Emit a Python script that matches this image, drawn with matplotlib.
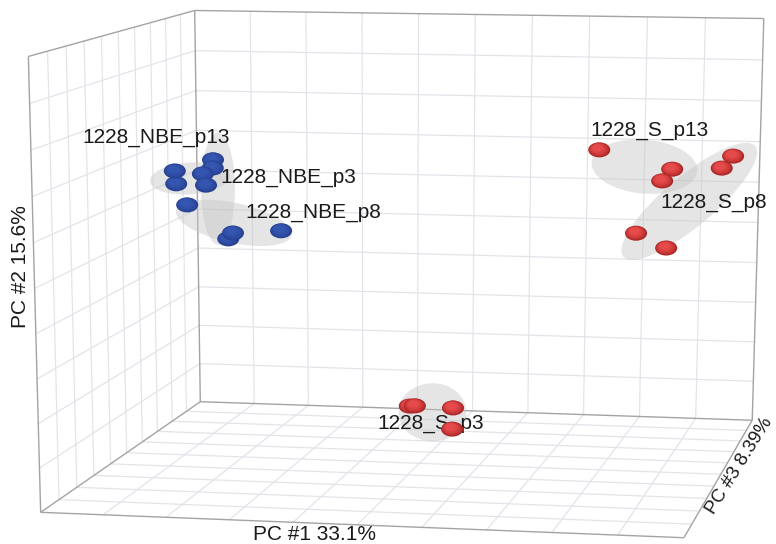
import numpy as np
import matplotlib
matplotlib.use("Agg")
import matplotlib.pyplot as plt
from matplotlib.patches import Ellipse
from matplotlib.colors import to_rgb

plt.rcParams['font.family'] = ['Liberation Sans', 'DejaVu Sans']

# ---- PCA scores, one entry per sample ----
group = (["1228_NBE_p13"] * 4 + ["1228_NBE_p3"] * 3 + ["1228_NBE_p8"] * 3
         + ["1228_S_p13"] * 3 + ["1228_S_p8"] * 4 + ["1228_S_p3"] * 4)
pc1 = [-40.9, -40.7, -34.9, -34.4, -35.7, -34.5, -30.8, -38.9, -30.0, -24.3,
       26.3, 38.5, 37.5, 48.0, 46.7, 32.7, 38.4, -7.5, -6.6, -0.8, 0.9]
pc2 = [17.9, 14.9, 18.2, 15.6, 19.9, 18.8, 3.2, 10.0, 4.6, 3.5,
       21.8, 17.6, 15.6, 20.2, 18.1, 2.2, -0.2, -44.1, -44.0, -45.5, -48.2]
pc3 = [0.0, 0.0, 5.0, 5.0, -5.0, 0.0, 5.0, 0.0, 5.0, -5.0,
       -20.0, -20.0, -15.0, -25.0, -20.0, -20.0, -15.0, -30.0, -30.0, -35.0, -25.0]

group_names = ["1228_NBE_p13", "1228_NBE_p3", "1228_NBE_p8",
               "1228_S_p13", "1228_S_p8", "1228_S_p3"]
axis_titles = ["PC #1 33.1%", "PC #2 15.6%", "PC #3 8.39%"]

# axis ranges of the 3D box and grid spacing
lims = [(-50.0, 50.0), (-50.0, 50.0), (-50.0, 50.0)]
grid_step = 10.0

# ---- camera: box corners (unit cube) placed on the canvas, perspective fitted by DLT ----
W, H = 776, 544
corner_unit = np.array([[0, 0, 0], [1, 0, 0], [0, 1, 0], [1, 1, 0],
                        [0, 0, 1], [1, 0, 1], [0, 1, 1], [1, 1, 1]], float)
corner_px = np.array([[200, 402], [753, 420], [195, 10], [763, 19],
                      [41, 512], [683, 538], [28, 57], [696, 67]], float)

rows = []
for (X, Y, Z), (u, v) in zip(corner_unit, corner_px):
    Xh = [X, Y, Z, 1.0]
    rows.append(Xh + [0.0] * 4 + [-u * c for c in Xh])
    rows.append([0.0] * 4 + Xh + [-v * c for c in Xh])
_, _, Vt = np.linalg.svd(np.array(rows))
CAM = Vt[-1].reshape(3, 4)


def to_unit(x, y, z):
    return np.array([(x - lims[0][0]) / (lims[0][1] - lims[0][0]),
                     (y - lims[1][0]) / (lims[1][1] - lims[1][0]),
                     (z - lims[2][0]) / (lims[2][1] - lims[2][0])])


def project(x, y, z):
    h = CAM @ np.append(to_unit(x, y, z), 1.0)
    return h[0] / h[2], h[1] / h[2]


fig = plt.figure(figsize=(W / 100, H / 100), dpi=100)
ax = fig.add_axes([0, 0, 1, 1])
ax.set_xlim(0, W)
ax.set_ylim(H, 0)
ax.set_axis_off()


def seg(p, q, **kw):
    a, b = project(*p), project(*q)
    ax.plot([a[0], b[0]], [a[1], b[1]], solid_capstyle='butt', **kw)


(x0, x1), (y0, y1), (z0, z1) = lims
grid_kw = dict(color='#e2e4e9', lw=0.9, zorder=1)
for t in np.arange(x0 + grid_step, x1, grid_step):
    seg((t, y0, z0), (t, y1, z0), **grid_kw)     # back wall, vertical
    seg((t, y0, z0), (t, y0, z1), **grid_kw)     # floor, running front-back
for t in np.arange(y0 + grid_step, y1, grid_step):
    seg((x0, t, z0), (x1, t, z0), **grid_kw)     # back wall, horizontal
    seg((x0, t, z0), (x0, t, z1), **grid_kw)     # left wall, running front-back
for t in np.arange(z0 + grid_step, z1, grid_step):
    seg((x0, y0, t), (x0, y1, t), **grid_kw)     # left wall, vertical
    seg((x0, y0, t), (x1, y0, t), **grid_kw)     # floor, running left-right

edge_kw = dict(color='#a3a3a3', lw=1.0, zorder=2)
box_edges = [((x0, y1, z0), (x1, y1, z0)), ((x1, y1, z0), (x1, y0, z0)),
             ((x0, y0, z0), (x0, y1, z0)), ((x0, y0, z0), (x1, y0, z0)),
             ((x0, y1, z0), (x0, y1, z1)), ((x0, y1, z1), (x0, y0, z1)),
             ((x0, y0, z0), (x0, y0, z1)), ((x0, y0, z1), (x1, y0, z1)),
             ((x1, y0, z0), (x1, y0, z1))]
for p, q in box_edges:
    seg(p, q, **edge_kw)

# ---- group ellipses around each group's centroid (width, height, angle in px) ----
ellipse_shape = {
    "1228_NBE_p13": (80, 32, -4),
    "1228_NBE_p3": (34, 112, 0),
    "1228_NBE_p8": (118, 40, 12),
    "1228_S_p13": (106, 54, 5),
    "1228_S_p8": (172, 50, -40),
    "1228_S_p3": (68, 58, 0),
}
grp = np.array(group)
P1, P2, P3 = map(np.array, (pc1, pc2, pc3))
for g in group_names:
    m = grp == g
    cx, cy = project(P1[m].mean(), P2[m].mean(), P3[m].mean())
    w, h, ang = ellipse_shape[g]
    ax.add_patch(Ellipse((cx, cy), w, h, angle=ang, fc='#c6c6c6', ec='none',
                         alpha=0.45, zorder=3))

# ---- group labels (left edge, baseline in canvas pixels) ----
label_pos = {
    "1228_NBE_p13": (82, 143), "1228_NBE_p3": (220, 183), "1228_NBE_p8": (245, 218),
    "1228_S_p13": (590, 136), "1228_S_p8": (660, 208), "1228_S_p3": (377, 429),
}
for g in group_names:
    lx, ly = label_pos[g]
    ax.text(lx, ly, g, fontsize=15, color='#1a1a1a', ha='left', va='baseline', zorder=4)

# ---- shaded sample markers ----
palette = {"NBE": ('#263f90', '#3556b0'), "S": ('#a82323', '#e64b4b')}


def mix(c1, c2, f):
    a, b = np.array(to_rgb(c1)), np.array(to_rgb(c2))
    return tuple(a + (b - a) * f)


order = np.argsort(P3)
for rank, i in enumerate(order):
    cx, cy = project(P1[i], P2[i], P3[i])
    dark, light = palette["NBE" if "NBE" in group[i] else "S"]
    mw, mh = 22, 15
    n = 7
    for k in range(n):
        f = k / (n - 1)
        sc = 1 - 0.55 * f
        ax.add_patch(Ellipse((cx - 0.08 * mw * f, cy - 0.14 * mh * f), mw * sc, mh * sc,
                             fc=mix(dark, light, f ** 0.6), ec='none',
                             zorder=5 + rank * 0.01 + k * 0.0001))

# ---- axis titles ----
ax.text(253, 540, axis_titles[0], fontsize=15, color='#1a1a1a', ha='left', va='baseline')
ax.text(21, 267, axis_titles[1], fontsize=15, color='#1a1a1a', rotation=90,
        ha='center', va='center')
ax.text(739, 466, axis_titles[2], fontsize=13.5, color='#1a1a1a', rotation=58,
        ha='center', va='center', rotation_mode='anchor')

fig.savefig("out.png", dpi=100)
